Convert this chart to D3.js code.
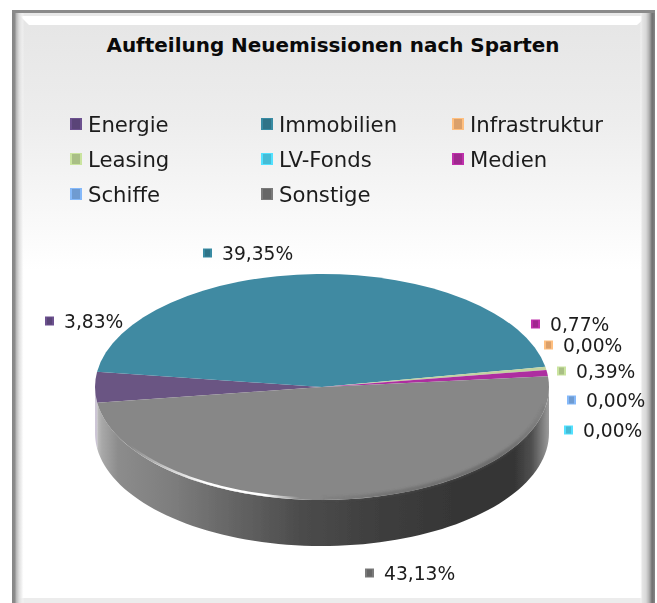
<!DOCTYPE html>
<html>
<head>
<meta charset="utf-8">
<script src="https://cdn.jsdelivr.net/npm/d3@7"></script>
<style>
	html, body { margin: 0; padding: 0; background: #fff; }
	svg { display: block; }
	text { font-family: "DejaVu Sans", Verdana, sans-serif; fill: #1c1c1c; }
</style>
</head>
<body>
<div id="chart"></div>
<script>
// Values as printed on the data labels
const categories = ["Energie", "Immobilien", "Infrastruktur", "Leasing", "LV-Fonds", "Medien", "Schiffe", "Sonstige"];
const shares = [3.83, 39.35, 0, 0.39, 0, 0.77, 0, 43.13];
const chartTitle = "Aufteilung Neuemissionen nach Sparten";

const colors = ["#6b5583", "#3f8aa2", "#e0a873", "#c3d3a0", "#4bc4dc", "#ad2ea0", "#6f9bd1", "#878787"];
const markerColors = ["#5a4478", "#2f7488", "#dba06a", "#a9bf85", "#45bcd6", "#a0288f", "#6f9bd1", "#666666"];

// Labels were placed by hand in the original, so they do not follow the slices
const labelPos = {
	"Energie": [45, 321],
	"Immobilien": [203, 253],
	"Infrastruktur": [544, 345],
	"Leasing": [557, 371],
	"LV-Fonds": [564, 430],
	"Medien": [531, 324],
	"Schiffe": [567, 400],
	"Sonstige": [365, 573]
};

const width = 657, height = 603;
const frame = {left: 12, top: 10, right: 655, bottom: 603};
const pieBox = {cx: 322, cy: 387, rx: 227, ry: 113, depth: 46};

const svg = d3.select("#chart").append("svg")
	.attr("width", width)
	.attr("height", height);

const defs = svg.append("defs");

function linearGradient(id, vertical, x0, x1, stops) {
	const g = defs.append("linearGradient")
		.attr("id", id)
		.attr("gradientUnits", "userSpaceOnUse")
		.attr("x1", vertical ? 0 : x0).attr("x2", vertical ? 0 : x1)
		.attr("y1", vertical ? x0 : 0).attr("y2", vertical ? x1 : 0);
	stops.forEach(s => {
		g.append("stop")
			.attr("offset", (s[0] - x0) / (x1 - x0))
			.attr("stop-color", s[1])
			.attr("stop-opacity", s[2] === undefined ? 1 : s[2]);
	});
}

linearGradient("bg", true, 26, 270, [[26, "#e6e6e6"], [120, "#ededed"], [220, "#f9f9f9"], [270, "#ffffff"]]);
linearGradient("bandLeft", false, 12, 24, [[12, "#858585"], [15, "#8c8c8c"], [16, "#b4b4b4"], [19, "#dcdcdc"], [22, "#eeeeee", 0.7], [24, "#ffffff", 0]]);
linearGradient("bandRight", false, 640, 655, [[640, "#ffffff", 0], [642, "#e6e6e6"], [646, "#d8d8d8"], [649, "#b4b4b4"], [651, "#8c8c8c"], [652, "#707070"], [655, "#858585"]]);
linearGradient("side", false, 95, 550, [
	[95, "#c6c6c6"], [102, "#a8a8a8"], [118, "#8c8c8c"], [170, "#7e7e7e"], [230, "#666666"],
	[300, "#4c4c4c"], [380, "#3e3e3e"], [470, "#343434"], [515, "#363636"], [532, "#505050"], [550, "#a0a0a0"]
]);
linearGradient("sideLilac", false, 95, 104, [[95, "#cfc8d8"], [104, "#b8b2c0"]]);
linearGradient("rim", false, 130, 300, [[130, "#ffffff", 0], [170, "#ffffff", 0.6], [205, "#ffffff", 1], [265, "#ffffff", 1], [300, "#ffffff", 0]]);
linearGradient("rimDark", false, 300, 540, [[300, "#555555", 0], [380, "#555555", 0.35], [500, "#555555", 0.5], [540, "#555555", 0.15]]);

defs.append("filter").attr("id", "soft")
	.attr("x", "-5%").attr("y", "-5%").attr("width", "110%").attr("height", "110%")
	.append("feGaussianBlur").attr("stdDeviation", 0.6);
defs.append("filter").attr("id", "softer")
	.attr("x", "-5%").attr("y", "-20%").attr("width", "110%").attr("height", "140%")
	.append("feGaussianBlur").attr("stdDeviation", 1.3);
defs.append("filter").attr("id", "glint")
	.attr("x", "-5%").attr("y", "-20%").attr("width", "110%").attr("height", "140%")
	.append("feGaussianBlur").attr("stdDeviation", 0.4);
defs.append("filter").attr("id", "textSoft")
	.attr("x", "-5%").attr("y", "-20%").attr("width", "110%").attr("height", "140%")
	.append("feGaussianBlur").attr("stdDeviation", 0.25);

// Frame
svg.append("rect")
	.attr("x", frame.left).attr("y", frame.top)
	.attr("width", frame.right - frame.left).attr("height", frame.bottom - frame.top)
	.attr("fill", "url(#bg)");
svg.append("rect")
	.attr("x", frame.left).attr("y", 598)
	.attr("width", frame.right - frame.left).attr("height", 5)
	.attr("fill", "#ececec");
svg.append("rect")
	.attr("x", frame.left).attr("y", frame.top)
	.attr("width", frame.right - frame.left).attr("height", 6)
	.attr("fill", "#e8e8e8");
svg.append("polygon")
	.attr("points", [[20, 16], [647, 16], [637, 25], [29, 25]].join(" "))
	.attr("fill", "#ffffff");
svg.append("rect")
	.attr("x", frame.left).attr("y", frame.top)
	.attr("width", 12).attr("height", frame.bottom - frame.top)
	.attr("fill", "url(#bandLeft)");
svg.append("rect")
	.attr("x", 640).attr("y", frame.top)
	.attr("width", 15).attr("height", frame.bottom - frame.top)
	.attr("fill", "url(#bandRight)");
svg.append("rect")
	.attr("x", frame.left).attr("y", frame.top)
	.attr("width", frame.right - frame.left).attr("height", 3)
	.attr("fill", "#8a8a8a");

// Title
svg.append("text")
	.attr("x", 333)
	.attr("y", 52)
	.attr("text-anchor", "middle")
	.attr("font-size", 20)
	.attr("font-weight", "bold")
	.attr("textLength", 453)
	.attr("lengthAdjust", "spacingAndGlyphs")
	.style("fill", "#0a0a0a")
	.text(chartTitle);

// Legend
const legendCol = d3.scalePoint().domain([0, 1, 2]).range([70, 452]);
const legendRow = d3.scalePoint().domain([0, 1, 2]).range([124, 194]);

function marker(sel, x, yc, size, color) {
	sel.append("rect")
		.attr("x", x).attr("y", yc - size / 2)
		.attr("width", size).attr("height", size)
		.attr("fill", d3.color(color).brighter(0.5));
	sel.append("rect")
		.attr("x", x + 2).attr("y", yc - size / 2 + 1)
		.attr("width", size - 4).attr("height", size - 2)
		.attr("fill", color);
}

const legend = svg.append("g").attr("class", "legend");
categories.forEach((name, i) => {
	const x = legendCol(i % 3), y = legendRow(Math.floor(i / 3));
	const item = legend.append("g");
	marker(item, x, y, 12, markerColors[i]);
	item.append("text")
		.attr("x", x + 18)
		.attr("y", y + 8)
		.attr("font-size", 21.2)
		.attr("filter", "url(#textSoft)")
		.text(name);
});

// Pie: drawn on a circle, then squashed into the tilted ellipse
const rad = d3.scaleLinear().domain([0, 360]).range([0, 2 * Math.PI]);
const start = rad(-98);

const pie = d3.pie()
	.sort(null)
	.startAngle(start)
	.endAngle(start + 2 * Math.PI)
	.value(d => d);
const arcs = pie(shares);

const ellipseX = a => pieBox.cx + pieBox.rx * Math.sin(a);
const ellipseY = a => pieBox.cy - pieBox.ry * Math.cos(a);

function edge(a0, a1, n, shiftY, inset) {
	const k = inset || 1;
	return d3.range(n + 1).map(i => {
		const a = a0 + (a1 - a0) * i / n;
		return [pieBox.cx + (ellipseX(a) - pieBox.cx) * k, pieBox.cy + (ellipseY(a) - pieBox.cy) * k + shiftY];
	});
}

function wall(a0, a1) {
	const upper = edge(a0, a1, 80, 0);
	const lower = edge(a1, a0, 80, pieBox.depth);
	return d3.line()(upper.concat(lower)) + "Z";
}

const pieGroup = svg.append("g").attr("filter", "url(#soft)");

const lastArc = arcs[arcs.length - 1];
const firstArc = arcs[0];

// Visible side wall: the lower half of the disc
pieGroup.append("path")
	.attr("d", wall(rad(90), lastArc.endAngle))
	.attr("fill", "url(#side)");
pieGroup.append("path")
	.attr("d", wall(firstArc.startAngle + 2 * Math.PI, rad(270)))
	.attr("fill", "url(#sideLilac)");

const topFace = pieGroup.append("g")
	.attr("transform", "translate(" + pieBox.cx + "," + pieBox.cy + ") scale(1," + (pieBox.ry / pieBox.rx) + ")");

const arc = d3.arc().innerRadius(0).outerRadius(pieBox.rx);

topFace.selectAll("path")
	.data(arcs)
	.enter()
	.append("path")
	.attr("d", arc)
	.attr("fill", (d, i) => colors[i]);

// Bevel on the front edge
svg.append("path")
	.attr("d", d3.line()(edge(rad(100), rad(180), 80, -0.5, 0.995)))
	.attr("fill", "none")
	.attr("stroke", "url(#rimDark)")
	.attr("stroke-width", 5)
	.attr("filter", "url(#softer)");
svg.append("path")
	.attr("d", d3.line()(edge(rad(170), rad(245), 80, -1, 0.998)))
	.attr("fill", "none")
	.attr("stroke", "url(#rim)")
	.attr("stroke-width", 2.4)
	.attr("filter", "url(#glint)");

// Data labels
const labelFormat = d3.formatLocale({decimal: ",", thousands: ".", grouping: [3], currency: ["", "€"]}).format(".2f");

categories.forEach((name, i) => {
	const p = labelPos[name];
	const item = svg.append("g").attr("class", "data-label");
	marker(item, p[0], p[1], 9, markerColors[i]);
	item.append("text")
		.attr("x", p[0] + 19)
		.attr("y", p[1] + 7)
		.attr("font-size", 18.7)
		.attr("filter", "url(#textSoft)")
		.text(labelFormat(shares[i]) + "%");
});
</script>
</body>
</html>
